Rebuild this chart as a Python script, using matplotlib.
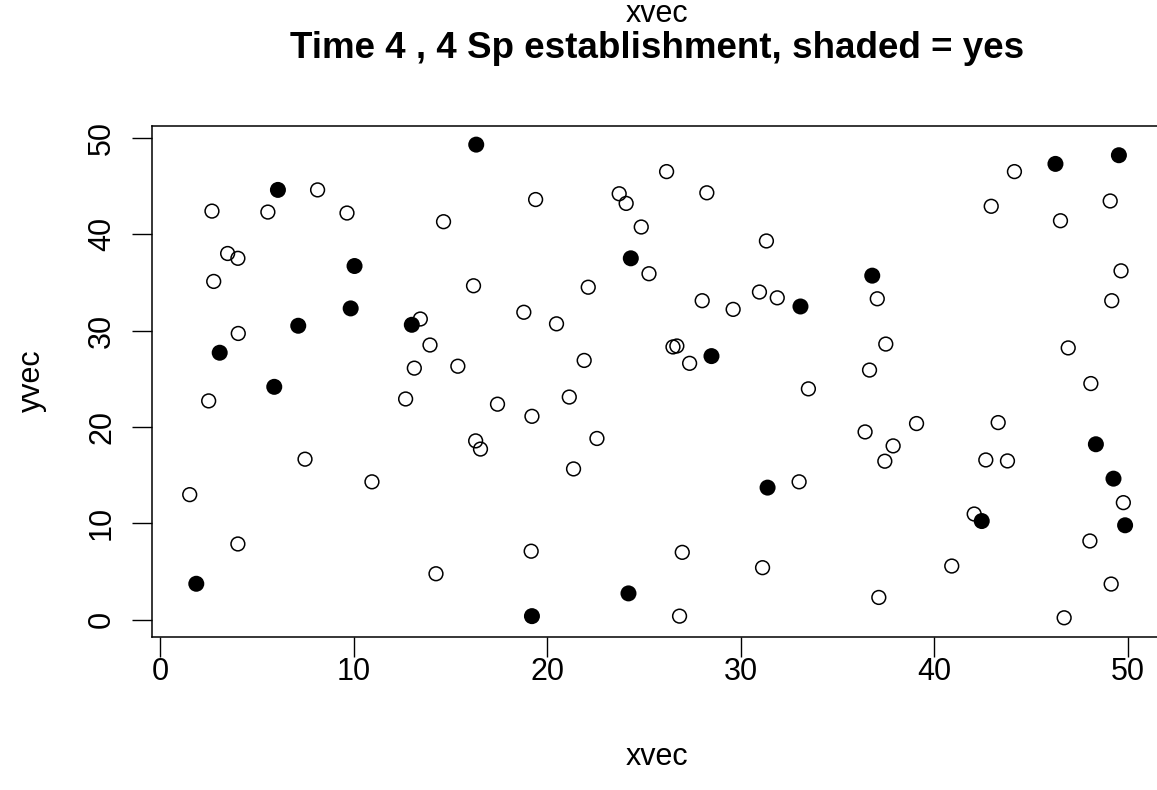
import matplotlib
matplotlib.use("Agg")
import matplotlib.pyplot as plt

# ---- data ----
open_x = [1.52, 2.50, 2.67, 2.76, 3.48, 4.01, 4.03, 4.01, 5.56, 7.48, 8.13, 9.65,
          10.94, 12.68, 13.13, 13.44, 13.94, 14.25, 14.64, 15.38, 16.19, 16.30, 16.55,
          17.43, 18.79, 19.17, 19.21, 19.40, 20.48, 21.14, 21.36, 21.91, 22.12, 22.57,
          23.72, 24.08, 24.86, 25.26, 26.17, 26.50, 26.70, 26.84, 26.98, 27.36, 28.01,
          28.25, 29.61, 30.97, 31.13, 31.33, 31.89, 33.02, 33.50, 36.43, 36.66, 37.06,
          37.14, 37.45, 37.50, 37.88, 39.09, 40.91, 42.07, 42.67, 42.95, 43.31, 43.79,
          44.15, 46.53, 46.72, 46.93, 48.05, 48.10, 49.10, 49.15, 49.18, 49.66, 49.78]
open_y = [12.97, 22.70, 42.40, 35.10, 38.00, 37.50, 29.70, 7.85, 42.30, 16.65, 44.60, 42.20,
          14.30, 22.90, 26.10, 31.20, 28.50, 4.76, 41.30, 26.30, 34.65, 18.55, 17.70,
          22.36, 31.90, 7.10, 21.10, 43.60, 30.70, 23.10, 15.64, 26.90, 34.50, 18.80,
          44.20, 43.20, 40.75, 35.90, 46.50, 28.30, 28.40, 0.36, 6.98, 26.60, 33.10,
          44.30, 32.20, 34.00, 5.39, 39.30, 33.40, 14.30, 23.95, 19.48, 25.90, 33.30,
          2.30, 16.44, 28.60, 18.03, 20.35, 5.56, 10.96, 16.57, 42.90, 20.45, 16.47,
          46.50, 41.40, 0.19, 28.20, 8.16, 24.50, 43.45, 3.69, 33.10, 36.20, 12.14]

shaded_x = [1.86, 3.07, 5.89, 6.08, 7.13, 9.84, 10.04, 13.00, 16.33, 19.21, 24.20, 24.32,
            28.49, 31.39, 33.09, 36.80, 42.46, 46.27, 48.36, 49.27, 49.55, 49.87]
shaded_y = [3.72, 27.70, 24.16, 44.60, 30.50, 32.30, 36.70, 30.60, 49.30, 0.36, 2.72, 37.50,
            27.35, 13.70, 32.50, 35.70, 10.23, 47.30, 18.20, 14.63, 48.20, 9.79]

x_ticks = [0, 10, 20, 30, 40, 50]
y_ticks = [0, 10, 20, 30, 40, 50]

title_text = "Time 4 , 4 Sp establishment, shaded = yes"
top_text = "xvec"
x_label = "xvec"
y_label = "yvec"

# ---- figure ----
W, H = 1157, 790
plt.rcParams['font.family'] = ['Liberation Sans', 'DejaVu Sans']
fig = plt.figure(figsize=(W / 100, H / 100), dpi=100)

all_x = open_x + shaded_x
all_y = open_y + shaded_y
xpad = 0.04 * (max(all_x) - min(all_x))
ypad = 0.04 * (max(all_y) - min(all_y))
xlim = (min(all_x) - xpad, max(all_x) + xpad)
ylim = (min(all_y) - ypad, max(all_y) + ypad)

left_px, top_px, bottom_px = 152.3, 125.7, 636.7
# axes extends slightly past the right edge (as in the reference)
x_per_unit = (1127.3 - 160.0) / 50.0
right_px = left_px + (xlim[1] - xlim[0]) * x_per_unit
ax = fig.add_axes([left_px / W, 1 - bottom_px / H,
                   (right_px - left_px) / W, (bottom_px - top_px) / H])

ax.scatter(open_x, open_y, s=98, facecolors='none', edgecolors='black',
           linewidths=1.1, zorder=3)
ax.scatter(shaded_x, shaded_y, s=133, facecolors='black', edgecolors='none',
           zorder=4)

ax.set_xlim(*xlim)
ax.set_ylim(*ylim)
ax.set_xticks(x_ticks)
ax.set_yticks(y_ticks)
ax.set_xticklabels([str(v) for v in x_ticks])
ax.set_yticklabels([str(v) for v in y_ticks], rotation=90, va='center')
ax.tick_params(axis='both', length=14.4, width=1.0, labelsize=22, color='black')
ax.tick_params(axis='x', pad=0)
ax.tick_params(axis='y', pad=11)
for sp in ax.spines.values():
    sp.set_linewidth(1.1)

fig.text(657 / W, 1 - 757 / H, x_label, ha='center', va='center', fontsize=22)
fig.text(32 / W, 1 - 381 / H, y_label, ha='center', va='center', fontsize=22,
         rotation=90)
fig.text(657 / W, 1 - 48 / H, title_text, ha='center', va='center', fontsize=26.5,
         fontweight='bold')
fig.text(657 / W, 1 - 14 / H, top_text, ha='center', va='center', fontsize=22)

fig.savefig("out.png", dpi=100)
